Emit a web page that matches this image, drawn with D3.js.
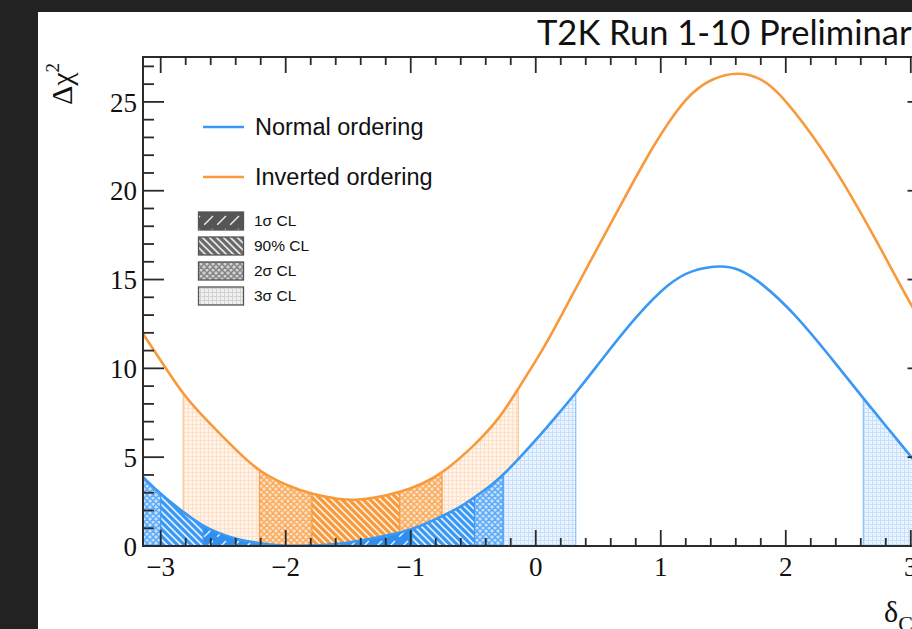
<!DOCTYPE html>
<html><head><meta charset="utf-8">
<script src="https://cdn.jsdelivr.net/npm/d3@7"></script>
<style>html,body{margin:0;padding:0;background:#222;} svg{display:block}</style>
</head><body><svg id="c" width="912" height="629"></svg>
<script>
// ---- data ----
const noDelta = [-3.1416,-3.0,-2.8,-2.66,-2.5,-2.37,-2.2,-2.05,-1.9,-1.75,-1.6,-1.45,-1.3,-1.15,-0.99,-0.77,-0.6,-0.49,-0.35,-0.26,-0.13,0.03,0.14,0.32,0.54,0.81,1.07,1.25,1.47,1.62,1.81,2.07,2.34,2.62,2.85,3.01,3.1416];
const noChi2  = [3.89,2.9,1.8,1.1,0.62,0.34,0.14,0.03,0.0,0.03,0.1,0.24,0.43,0.65,0.92,1.6,2.2,2.75,3.45,4.0,4.95,6.2,7.1,8.6,10.6,13.0,14.85,15.55,15.8,15.65,14.8,13.1,10.8,8.3,6.35,4.95,3.89];
const ioDelta = [-3.1416,-3.0,-2.82,-2.63,-2.37,-2.21,-1.97,-1.79,-1.57,-1.45,-1.3,-1.07,-0.9,-0.75,-0.5,-0.29,-0.14,0.03,0.14,0.41,0.67,0.94,1.21,1.41,1.62,1.8,1.94,2.21,2.47,2.74,3.01,3.1416];
const ioChi2  = [11.95,10.45,8.5,7.05,5.2,4.18,3.33,2.92,2.62,2.58,2.68,3.05,3.52,4.08,5.58,7.17,8.85,10.75,12.1,15.7,19.06,22.6,25.4,26.35,26.7,26.35,25.6,23.2,20.4,17.0,13.45,11.95];
// confidence-level intervals [level, from, to]
const noIntervals = [["s2",-3.1416,-3.0],["s90",-3.0,-2.66],["s1",-2.66,-0.99],["s90",-0.99,-0.49],["s2",-0.49,-0.26],["s3",-0.26,0.32],["s3",2.62,3.1416]];
const ioIntervals = [["s3",-2.82,-2.21],["s2",-2.21,-1.79],["s90",-1.79,-1.09],["s2",-1.09,-0.75],["s3",-0.75,-0.14]];
const seriesNames = ["Normal ordering","Inverted ordering"];
const clNames = [["s1","1σ CL"],["s90","90% CL"],["s2","2σ CL"],["s3","3σ CL"]];
const yMajor = [0,5,10,15,20,25];
const xMajor = [-3,-2,-1,0,1,2,3];

// ---- setup ----
const BLUE="#3a98f5", ORANGE="#f89a3c", GRAY="#6a6a6a";
const svg = d3.select("#c");
svg.append("rect").attr("width",912).attr("height",629).attr("fill","#222");
svg.append("rect").attr("x",38).attr("y",12).attr("width",874).attr("height",617).attr("fill","#fff");
const L=143, R=928.5, T=57, B=546;
const x = d3.scaleLinear().domain([-Math.PI, Math.PI]).range([L,R]);
const y = d3.scaleLinear().domain([0,27.5]).range([B,T+0.5]);
const defs = svg.append("defs");

function makePattern(id, kind, color, dark){
  const p = defs.append("pattern").attr("id",id).attr("patternUnits","userSpaceOnUse");
  if(kind==="s1"){
    const s=13; p.attr("width",s).attr("height",s);
    p.append("rect").attr("width",s).attr("height",s).attr("fill",dark||color);
    p.append("path").attr("d",`M-2,2 l4,-4 M0,${s} l${s},-${s} M${s-2},${s+2} l4,-4`).attr("stroke","#fff").attr("stroke-width",1.4).attr("stroke-dasharray","7,6").attr("opacity",0.9);
  } else if(kind==="s90"){
    const s=7; p.attr("width",s).attr("height",s);
    p.append("rect").attr("width",s).attr("height",s).attr("fill",color);
    p.append("path").attr("d",`M-2,${s-2} l4,4 M0,0 l${s},${s} M${s-2},-2 l4,4`).attr("stroke","#fff").attr("stroke-width",1.6).attr("opacity",0.85);
  } else if(kind==="s2"){
    const s=6; p.attr("width",s).attr("height",s);
    p.append("rect").attr("width",s).attr("height",s).attr("fill","#fff");
    p.append("rect").attr("width",s).attr("height",s).attr("fill",color).attr("opacity",0.3);
    p.append("path").attr("d",`M-2,${s-2} l4,4 M0,0 l${s},${s} M${s-2},-2 l4,4 M-2,2 l4,-4 M0,${s} l${s},-${s} M${s-2},${s+2} l4,-4`).attr("stroke",color).attr("stroke-width",1.5).attr("opacity",0.75);
  } else {
    const s=4; p.attr("width",s).attr("height",s);
    p.append("rect").attr("width",s).attr("height",s).attr("fill","#fff");
    p.append("rect").attr("width",s).attr("height",s).attr("fill",color).attr("opacity",0.1);
    p.append("path").attr("d",`M0,0.5 H${s} M0.5,0 V${s}`).attr("stroke",color).attr("stroke-width",1).attr("opacity",0.22);
  }
}
["s1","s90","s2","s3"].forEach(k=>{
  makePattern("no_"+k,k,BLUE,"#2f8ef0");
  makePattern("io_"+k,k,ORANGE,"#f2902f");
  makePattern("lg_"+k,k,GRAY,"#555");
});

const crv = d3.curveBasis;
const line = d3.line().x(d=>x(d[0])).y(d=>y(d[1])).curve(crv);
const area = d3.area().x(d=>x(d[0])).y0(y(0)).y1(d=>y(d[1])).curve(crv);
const noPts = noDelta.map((d,i)=>[d,noChi2[i]]);
const ioPts = ioDelta.map((d,i)=>[d,ioChi2[i]]);

// clip to plot frame
defs.append("clipPath").attr("id","frame").append("rect").attr("x",L).attr("y",T).attr("width",R-L).attr("height",B-T);
defs.append("clipPath").attr("id","under_no").append("path").attr("d",area(noPts));
defs.append("clipPath").attr("id","under_io").append("path").attr("d",area(ioPts));

const plot = svg.append("g").attr("clip-path","url(#frame)");
function drawRegions(pre, pts, intervals, color){
  const g = plot.append("g").attr("clip-path",`url(#under_${pre})`);
  intervals.forEach(([lv,a,b],i)=>{
    g.append("rect").attr("x",x(a)).attr("y",T).attr("width",x(b)-x(a)).attr("height",B-T)
      .attr("fill",`url(#${pre}_${lv})`);
  });
  intervals.forEach(([lv,a,b])=>{
    [a,b].forEach(v=>{
      if(Math.abs(v)>3.14) return;
      g.append("line").attr("x1",x(v)).attr("x2",x(v)).attr("y1",T).attr("y2",B)
        .attr("stroke",color).attr("stroke-width",1.2).attr("opacity",lv==="s3"?0.55:0.7);
    });
  });
}
drawRegions("io", ioPts, ioIntervals, ORANGE);
drawRegions("no", noPts, noIntervals, BLUE);
plot.append("path").attr("d",line(ioPts)).attr("fill","none").attr("stroke",ORANGE).attr("stroke-width",2.6);
plot.append("path").attr("d",line(noPts)).attr("fill","none").attr("stroke",BLUE).attr("stroke-width",2.6);

// ---- frame & ticks ----
const ax = svg.append("g").attr("stroke","#2a2a2a").attr("stroke-width",1.8);
ax.append("rect").attr("x",L).attr("y",T).attr("width",R-L).attr("height",B-T).attr("fill","none").attr("stroke-width",2);
const xMinor = d3.range(-15,16).map(i=>i/5);
xMinor.forEach(v=>{
  const major = Math.abs(v-Math.round(v))<1e-9;
  const len = major?16:8;
  ax.append("line").attr("x1",x(v)).attr("x2",x(v)).attr("y1",B).attr("y2",B-len);
  ax.append("line").attr("x1",x(v)).attr("x2",x(v)).attr("y1",T).attr("y2",T+len);
});
d3.range(0,28).forEach(v=>{
  const len = v%5===0?21:11;
  ax.append("line").attr("x1",L).attr("x2",L+len).attr("y1",y(v)).attr("y2",y(v));
  ax.append("line").attr("x1",R).attr("x2",R-len).attr("y1",y(v)).attr("y2",y(v));
});
const fmt = d3.format("d");
svg.append("g").selectAll("text").data(yMajor).join("text")
  .attr("x",L-6).attr("y",d=>y(d)).attr("dy","0.36em").attr("text-anchor","end")
  .attr("font-family","Liberation Serif, Times New Roman, serif").attr("font-size",27).attr("fill","#111")
  .text(d=>fmt(d));
svg.append("g").selectAll("text").data(xMajor).join("text")
  .attr("x",d=>x(d)).attr("y",576).attr("text-anchor","middle")
  .attr("font-family","Liberation Serif, Times New Roman, serif").attr("font-size",27).attr("fill","#111")
  .text(d=>fmt(d));

// axis titles
const yl = svg.append("text").attr("transform","translate(72,105) rotate(-90)")
  .attr("font-family","Liberation Serif, Times New Roman, serif").attr("font-size",30).attr("fill","#111");
yl.append("tspan").text("Δχ");
yl.append("tspan").attr("font-size",19).attr("dy",-13).text("2");
const xl = svg.append("text").attr("x",884).attr("y",622)
  .attr("font-family","Liberation Serif, Times New Roman, serif").attr("font-size",30).attr("fill","#111");
xl.append("tspan").text("δ");
xl.append("tspan").attr("font-size",22).attr("dy",9).text("CP");

// title
svg.append("text").attr("x",537).attr("y",45).attr("font-family","Lato, 'Open Sans', sans-serif")
  .attr("font-size",34.5).attr("fill","#111").text("T2K Run 1-10 Preliminary");

// legend
const lg = svg.append("g").attr("font-family","Liberation Sans, Arial, sans-serif").attr("fill","#111");
[[BLUE,127],[ORANGE,177]].forEach(([c,yy],i)=>{
  lg.append("line").attr("x1",203).attr("x2",244).attr("y1",yy).attr("y2",yy).attr("stroke",c).attr("stroke-width",2.6);
  lg.append("text").attr("x",255).attr("y",yy+8).attr("font-size",23.5).text(seriesNames[i]);
});
clNames.forEach(([k,name],i)=>{
  const yy = 212 + i*25;
  lg.append("rect").attr("x",198.5).attr("y",yy).attr("width",45).attr("height",18)
    .attr("fill",`url(#lg_${k})`).attr("stroke","#555").attr("stroke-width",1.3);
  lg.append("text").attr("x",254).attr("y",yy+14).attr("font-size",15.5).text(name);
});
</script></body></html>
